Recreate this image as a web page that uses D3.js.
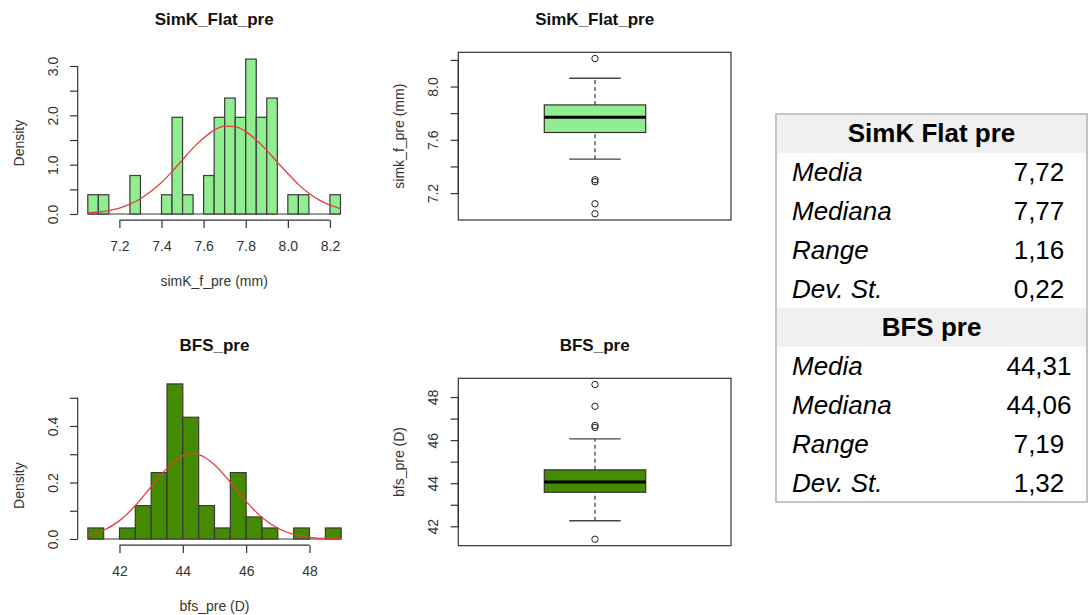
<!DOCTYPE html>
<html>
<head>
  <meta charset="utf-8">
  <style>
    body { margin: 0; background: #fff; }
    svg { font-family: "Liberation Sans", Arial, sans-serif; }
    .axis line, .axis path { stroke: #333; stroke-width: 1.2; }
    .axis text { font-size: 14px; fill: #333; }
    .bar { stroke: #3a3a3a; stroke-width: 1.2; }
    .curve { fill: none; stroke: #e0403c; stroke-width: 1.3; }
    .title { font-size: 17px; font-weight: bold; fill: #111; text-anchor: middle; }
    .lab { font-size: 14px; fill: #333; text-anchor: middle; }
  </style>
  <script src="https://d3js.org/d3.v7.min.js"></script>
</head>
<body>
<script>
  // SimK flat pre: histogram (density) and boxplot
  var simkBreaks = [7.05, 7.10, 7.15, 7.20, 7.25, 7.30, 7.35, 7.40, 7.45, 7.50, 7.55, 7.60, 7.65,
                    7.70, 7.75, 7.80, 7.85, 7.90, 7.95, 8.00, 8.05, 8.10, 8.15, 8.20, 8.25];
  var simkDensity = [0.39, 0.39, 0, 0, 0.78, 0, 0, 0.39, 1.96, 0.39, 0, 0.78, 1.96,
                     2.35, 1.96, 3.14, 1.96, 2.35, 0, 0.39, 0.39, 0, 0, 0.39];
  var simkCurveX = [7.05, 7.10, 7.15, 7.20, 7.25, 7.30, 7.35, 7.40, 7.45, 7.50, 7.55, 7.60, 7.65,
                    7.70, 7.75, 7.80, 7.85, 7.90, 7.95, 8.00, 8.05, 8.10, 8.15, 8.20, 8.25];
  var simkCurveY = [0.02, 0.04, 0.07, 0.12, 0.20, 0.31, 0.46, 0.64, 0.86, 1.10, 1.34, 1.54, 1.70,
                    1.78, 1.77, 1.67, 1.50, 1.29, 1.05, 0.82, 0.60, 0.42, 0.28, 0.18, 0.11];
  var simkBoxStats = [7.455, 7.655, 7.77, 7.862, 8.062];   // lower whisker, Q1, median, Q3, upper whisker
  var simkOutliers = [8.21, 7.30, 7.285, 7.12, 7.045];

  // BFS pre
  var bfsBreaks = [41, 41.5, 42, 42.5, 43, 43.5, 44, 44.5, 45, 45.5, 46, 46.5, 47, 47.5, 48, 48.5, 49];
  var bfsDensity = [0.039, 0, 0.039, 0.118, 0.235, 0.549, 0.431, 0.118, 0.039, 0.235, 0.078, 0.039, 0, 0.039, 0, 0.039];
  var bfsCurveX = [41, 41.5, 42, 42.5, 43, 43.5, 44, 44.3, 44.5, 45, 45.5, 46, 46.5, 47, 47.5, 48, 48.5, 49];
  var bfsCurveY = [0.013, 0.031, 0.065, 0.118, 0.185, 0.250, 0.294, 0.302, 0.299, 0.263, 0.201, 0.133, 0.076, 0.038, 0.016, 0.006, 0.002, 0.001];
  var bfsBoxStats = [42.26, 43.58, 44.06, 44.62, 46.06];
  var bfsOutliers = [48.58, 47.57, 46.68, 46.59, 41.40];

  // ticks
  var simkHistXTicks = [7.2, 7.4, 7.6, 7.8, 8.0, 8.2];
  var simkHistYTicks = [0, 0.5, 1, 1.5, 2, 2.5, 3];
  var simkHistYLabels = ["0.0", "", "1.0", "", "2.0", "", "3.0"];
  var simkBoxYTicks = [7.2, 7.4, 7.6, 7.8, 8.0, 8.2];
  var simkBoxYLabels = ["7.2", "", "7.6", "", "8.0", ""];
  var bfsHistXTicks = [42, 44, 46, 48];
  var bfsHistYTicks = [0, 0.1, 0.2, 0.3, 0.4, 0.5];
  var bfsHistYLabels = ["0.0", "", "0.2", "", "0.4", ""];
  var bfsBoxYTicks = [42, 43, 44, 45, 46, 47, 48];
  var bfsBoxYLabels = ["42", "", "44", "", "46", "", "48"];

  // table
  var tableGroups = ["SimK Flat pre", "BFS pre"];
  var statNames = ["Media", "Mediana", "Range", "Dev. St."];
  var simkStats = ["7,72", "7,77", "1,16", "0,22"];
  var bfsStats = ["44,31", "44,06", "7,19", "1,32"];

  var svg = d3.select("body").append("svg")
      .attr("width", 1088)
      .attr("height", 615);

  function yAxis(g, scale, ticks, labels, x) {
    var ax = g.append("g")
        .attr("class", "axis")
        .attr("transform", "translate(" + x + ",0)")
        .call(d3.axisLeft(scale).tickValues(ticks).tickSize(7.7).tickSizeOuter(0)
          .tickFormat(function(d, i) { return labels[i]; }));
    ax.select(".domain").remove();
    ax.append("line")
        .attr("y1", scale(ticks[0])).attr("y2", scale(ticks[ticks.length - 1]));
    ax.selectAll(".tick text")
        .attr("x", 0).attr("y", -25).attr("dy", null)
        .attr("text-anchor", "middle")
        .attr("dominant-baseline", "central")
        .attr("transform", "rotate(-90)");
  }

  function xAxis(g, scale, ticks, fmt, y) {
    var ax = g.append("g")
        .attr("class", "axis")
        .attr("transform", "translate(0," + y + ")")
        .call(d3.axisBottom(scale).tickValues(ticks).tickSize(7.7).tickSizeOuter(0)
          .tickFormat(d3.format(fmt)));
    ax.select(".domain").remove();
    ax.append("line")
        .attr("x1", scale(ticks[0])).attr("x2", scale(ticks[ticks.length - 1]));
    ax.selectAll(".tick text").attr("y", 26).attr("dy", null)
        .attr("dominant-baseline", "central");
  }

  function histogram(o) {
    var g = svg.append("g");
    // xd / yd span the whole plot region (data range padded by 4%, as R does)
    var x = d3.scaleLinear().domain(o.xd).range(o.xr);
    var y = d3.scaleLinear().domain(o.yd).range(o.yr);
    var bins = o.dens.map(function(d, i) { return [o.breaks[i], o.breaks[i + 1], d]; });

    g.append("line")
        .attr("x1", x(o.breaks[0])).attr("x2", x(o.breaks[o.breaks.length - 1]))
        .attr("y1", y(0)).attr("y2", y(0))
        .attr("stroke", "#3a3a3a").attr("stroke-width", 1.2);

    g.selectAll(".bar")
      .data(bins.filter(function(b) { return b[2] > 0; }))
      .enter().append("rect")
        .attr("class", "bar")
        .attr("fill", o.fill)
        .attr("x", function(b) { return x(b[0]); })
        .attr("width", function(b) { return x(b[1]) - x(b[0]); })
        .attr("y", function(b) { return y(b[2]); })
        .attr("height", function(b) { return y(0) - y(b[2]); });

    var line = d3.line()
        .x(function(d, i) { return x(o.cx[i]); })
        .y(function(d) { return y(d); })
        .curve(d3.curveMonotoneX);
    g.append("path").attr("class", "curve").attr("d", line(o.cy));

    yAxis(g, y, o.yTicks, o.yLabels, o.xr[0]);
    xAxis(g, x, o.xTicks, o.fmt, o.yr[0]);

    g.append("text").attr("class", "title")
        .attr("x", (o.xr[0] + o.xr[1]) / 2).attr("y", o.titleY).text(o.title);
    g.append("text").attr("class", "lab")
        .attr("x", (o.xr[0] + o.xr[1]) / 2).attr("y", o.yr[0] + 61)
        .attr("dominant-baseline", "central").text(o.xlab);
    g.append("text").attr("class", "lab")
        .attr("transform", "translate(19," + ((o.yr[0] + o.yr[1]) / 2) + ") rotate(-90)")
        .attr("dominant-baseline", "central").text("Density");
  }

  function boxplot(o) {
    var g = svg.append("g");
    var y = d3.scaleLinear().domain(o.yd).range(o.yr);
    var left = 458.3, right = 731, cx = 595, half = 50.7, cap = 25.7;
    var s = o.stats;

    g.append("rect")
        .attr("x", left).attr("y", o.yr[1])
        .attr("width", right - left).attr("height", o.yr[0] - o.yr[1])
        .attr("fill", "none").attr("stroke", "#333").attr("stroke-width", 1.2);

    // whiskers
    [[s[0], s[1]], [s[3], s[4]]].forEach(function(w) {
      g.append("line")
          .attr("x1", cx).attr("x2", cx)
          .attr("y1", y(w[0])).attr("y2", y(w[1]))
          .attr("stroke", "#333").attr("stroke-width", 1.2)
          .attr("stroke-dasharray", "4,3");
    });
    [s[0], s[4]].forEach(function(v) {
      g.append("line")
          .attr("x1", cx - cap).attr("x2", cx + cap)
          .attr("y1", y(v)).attr("y2", y(v))
          .attr("stroke", "#444").attr("stroke-width", 1.4);
    });

    g.append("rect")
        .attr("x", cx - half).attr("width", half * 2)
        .attr("y", y(s[3])).attr("height", y(s[1]) - y(s[3]))
        .attr("fill", o.fill).attr("stroke", "#333").attr("stroke-width", 1.2);
    g.append("line")
        .attr("x1", cx - half).attr("x2", cx + half)
        .attr("y1", y(s[2])).attr("y2", y(s[2]))
        .attr("stroke", "#000").attr("stroke-width", 3);

    g.selectAll(".out")
      .data(o.outliers)
      .enter().append("circle")
        .attr("cx", cx).attr("cy", function(d) { return y(d); })
        .attr("r", 3.2)
        .attr("fill", "none").attr("stroke", "#222").attr("stroke-width", 1);

    yAxis(g, y, o.yTicks, o.yLabels, left);

    g.append("text").attr("class", "title")
        .attr("x", (left + right) / 2).attr("y", o.titleY).text(o.title);
    g.append("text").attr("class", "lab")
        .attr("transform", "translate(399.3," + ((o.yr[0] + o.yr[1]) / 2) + ") rotate(-90)")
        .attr("dominant-baseline", "central").text(o.ylab);
  }

  histogram({
    breaks: simkBreaks, dens: simkDensity, cx: simkCurveX, cy: simkCurveY,
    xd: [7.002, 8.298], xr: [77.7, 350.6], yd: [-0.126, 3], yr: [220.2, 66],
    xTicks: simkHistXTicks, yTicks: simkHistYTicks, yLabels: simkHistYLabels, fmt: ".1f",
    fill: "#90ee90", title: "SimK_Flat_pre", titleY: 25, xlab: "simK_f_pre (mm)"
  });

  histogram({
    breaks: bfsBreaks, dens: bfsDensity, cx: bfsCurveX, cy: bfsCurveY,
    xd: [40.68, 49.32], xr: [77.7, 351.3], yd: [-0.022, 0.4], yr: [545.2, 426],
    xTicks: bfsHistXTicks, yTicks: bfsHistYTicks, yLabels: bfsHistYLabels, fmt: "d",
    fill: "#458b00", title: "BFS_pre", titleY: 351, xlab: "bfs_pre (D)"
  });

  boxplot({
    stats: simkBoxStats, outliers: simkOutliers, yd: [6.998, 8.257], yr: [220, 52.3],
    yTicks: simkBoxYTicks, yLabels: simkBoxYLabels,
    fill: "#90ee90", title: "SimK_Flat_pre", titleY: 25, ylab: "simk_f_pre (mm)"
  });

  boxplot({
    stats: bfsBoxStats, outliers: bfsOutliers, yd: [41.10, 48.87], yr: [545.7, 378.3],
    yTicks: bfsBoxYTicks, yLabels: bfsBoxYLabels,
    fill: "#458b00", title: "BFS_pre", titleY: 351, ylab: "bfs_pre (D)"
  });

  // summary table
  var tx0 = 776, tx1 = 1087, ty0 = 114, rowH = 38.8;
  var tbl = svg.append("g");
  var rows = [];
  tableGroups.forEach(function(name, gi) {
    rows.push({ head: true, label: name });
    var vals = gi === 0 ? simkStats : bfsStats;
    statNames.forEach(function(s, i) { rows.push({ head: false, label: s, value: vals[i] }); });
  });

  var yRow = d3.scaleLinear().domain([0, rows.length]).range([ty0, ty0 + rows.length * rowH]);

  tbl.selectAll(".hbg")
    .data(rows.filter(function(r) { return r.head; }))
    .enter().append("rect")
      .attr("x", tx0).attr("width", tx1 - tx0)
      .attr("y", function(r) { return yRow(rows.indexOf(r)); })
      .attr("height", rowH)
      .attr("fill", "#f0f0f0");

  rows.forEach(function(r, i) {
    var cy = yRow(i + 0.5);
    if (r.head) {
      tbl.append("text")
          .attr("x", (tx0 + tx1) / 2).attr("y", cy)
          .attr("text-anchor", "middle").attr("dominant-baseline", "central")
          .attr("font-size", 26).attr("font-weight", "bold").attr("fill", "#000")
          .text(r.label);
    } else {
      tbl.append("text")
          .attr("x", 792).attr("y", cy)
          .attr("dominant-baseline", "central")
          .attr("font-size", 26).attr("font-style", "italic").attr("fill", "#000")
          .text(r.label);
      tbl.append("text")
          .attr("x", 1039).attr("y", cy)
          .attr("text-anchor", "middle").attr("dominant-baseline", "central")
          .attr("font-size", 26).attr("fill", "#000")
          .text(r.value);
    }
  });

  tbl.append("rect")
      .attr("x", tx0).attr("y", ty0)
      .attr("width", tx1 - tx0).attr("height", rows.length * rowH)
      .attr("fill", "none").attr("stroke", "#c4c4c4").attr("stroke-width", 2);
</script>
</body>
</html>
